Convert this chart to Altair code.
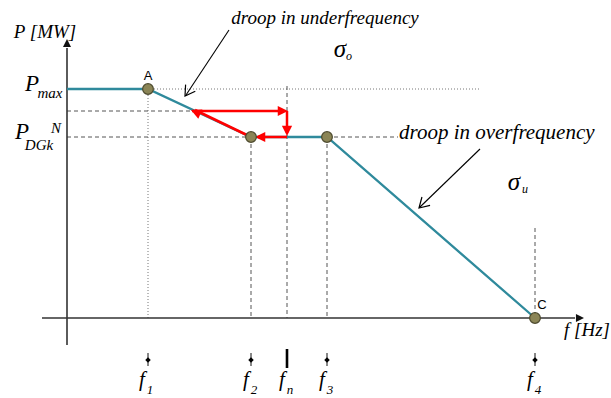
import altair as alt
import pandas as pd

# Characteristic P(f) of a distributed generator, in diagram units
# (origin of the f / P axes at 0, 0).
F1, F2, FN, F3, F4 = 81, 184, 220, 260, 468
P_MAX, P_MID, P_DGK = 229, 207, 181
F_MID = 125

# Teal P(f) characteristic
curve_f = [0, F1, F2, F3, F4]
curve_p = [P_MAX, P_MAX, P_DGK, P_DGK, 0]

# Operating points (circles)
pt_f = [F1, F2, F3, F4]
pt_p = [P_MAX, P_DGK, P_DGK, 0]

TEAL = "#2f8a9c"
RED = "#ff0000"
SERIF = "Liberation Serif"
SANS = "Liberation Sans"

W, H = 611, 398
xs = alt.Scale(domain=[-67, 544], range=[0, W], nice=False, zero=False)
ys = alt.Scale(domain=[-80, 318], range=[H, 0], nice=False, zero=False)
X = lambda f="x": alt.X(f, type="quantitative", scale=xs, axis=None)
Y = lambda f="y": alt.Y(f, type="quantitative", scale=ys, axis=None)


def segs(rows):
    return pd.DataFrame(rows, columns=["x", "y", "x2", "y2"])


def rules(rows, color, width, dash=None):
    kw = dict(color=color, strokeWidth=width)
    if dash:
        kw["strokeDash"] = dash
    return alt.Chart(segs(rows)).mark_rule(**kw).encode(
        x=X(), y=Y(), x2="x2:Q", y2="y2:Q")


def heads(rows, color, size, path, filled=True, width=1.2):
    df = pd.DataFrame(rows, columns=["x", "y", "angle"])
    kw = dict(shape=path, size=size, color=color, opacity=1)
    if filled:
        kw.update(filled=True, strokeWidth=0)
    else:
        kw.update(filled=False, strokeWidth=width)
    return alt.Chart(df).mark_point(**kw).encode(
        x=X(), y=Y(), angle=alt.Angle("angle:Q", scale=None))


def texts(rows, size, font=SERIF, style="italic", align="center", color="black"):
    df = pd.DataFrame(rows, columns=["x", "y", "t"])
    return alt.Chart(df).mark_text(
        font=font, fontSize=size, fontStyle=style, align=align,
        baseline="middle", color=color).encode(x=X(), y=Y(), text="t:N")


FILLED_HEAD = "M0,0L-1,-0.5L-1,0.5Z"
OPEN_HEAD = "M-1,-0.6L0,0L-1,0.6"

# Guide lines
dotted = rules([(F1, P_MAX, 413, P_MAX), (F1, P_MAX, F1, 0)],
               "#777777", 1, [1, 2])
dashed = rules([(0, P_MID, F_MID, P_MID), (0, P_DGK, F2, P_DGK),
                (F3, P_DGK, 331, P_DGK), (F2, P_DGK, F2, 0),
                (FN, 232, FN, 0), (F3, P_DGK, F3, 0), (F4, 90, F4, 0)],
               "#555555", 1, [4, 3])

# Axes with arrowheads
axes = rules([(0, 270, 0, -27), (-25, 0, 508, 0)], "#333333", 1.6)
axis_heads = heads([(0, 279, -90), (517, 0, 0)], "#111111", 260, FILLED_HEAD)

# Characteristic
curve = alt.Chart(pd.DataFrame({"x": curve_f, "y": curve_p})).mark_line(
    color=TEAL, strokeWidth=2.3).encode(x=X(), y=Y(), order="x:Q")

# Red path of the operating point
red = rules([(F2, P_DGK, F_MID + 3, P_MID + 1), (F_MID, P_MID, FN - 4, P_MID),
             (FN, P_MID, FN, P_DGK + 4), (FN, P_DGK, F2 + 7, P_DGK)], RED, 2.5)
red_heads = heads([(F_MID - 1, P_MID + 1, 204), (FN + 1, P_MID, 0),
                   (FN, P_DGK + 1, 90), (F2 + 4, P_DGK, 180)],
                  RED, 420, FILLED_HEAD)

points = alt.Chart(pd.DataFrame({"x": pt_f, "y": pt_p})).mark_point(
    shape="circle", filled=True, size=115, color="#8b8556",
    stroke="#4d4a2e", strokeWidth=1.2, opacity=1).encode(x=X(), y=Y())

# Annotation arrows
notes = rules([(162, 288, 119, 223), (413, 169, 353, 111)], "black", 1.1)
note_heads = heads([(118, 222, 124), (352, 110, 136)], "black", 380,
                   OPEN_HEAD, filled=False)

# Ticks on the frequency axis
tick_f = [F1, F2, F3, F4]
ticks = rules([(f, -35, f, -48) for f in tick_f], "#111111", 1)
tick_dots = alt.Chart(pd.DataFrame({"x": tick_f, "y": [-42] * 4})).mark_point(
    shape="diamond", filled=True, size=30, color="black", opacity=1).encode(
    x=X(), y=Y())
fn_tick = rules([(FN, -31, FN, -50)], "black", 2.6)

labels_f = texts([(F1 - 6, -62, "f"), (F2 - 5, -62, "f"), (FN - 5, -62, "f"),
                  (F3 - 5, -62, "f"), (F4 - 5, -62, "f")], 21)
labels_main = texts([(-22, 286, "P [MW]"),
                     (258, 300, "droop in underfrequency"),
                     (520, -12, "f [Hz]")], 19)
label_over = texts([(332, 185, "droop in overfrequency")], 21, align="left")
labels_sub = texts([(F1 + 2, -72, "1"), (F2 + 3, -72, "2"), (FN + 3, -72, "n"),
                    (F3 + 3, -72, "3"), (F4 + 3, -72, "4")], 13)
labels_p = texts([(-35, 234, "P"), (-45, 186, "P")], 23)
labels_psub = texts([(-17, 225, "max"), (-28, 173, "DGk")], 15)
labels_psup = texts([(-11, 190, "N")], 15)
sigmas = texts([(273, 269, "σ"), (447, 136, "σ")], 25)
sigma_sub = texts([(282, 262, "o"), (458, 129, "u")], 12)
letters = texts([(F1, 242, "A"), (F4 + 7, 13, "C")], 13, font=SANS,
                style="normal")

chart = alt.layer(
    dotted, dashed, axes, axis_heads, curve, red, red_heads, points,
    notes, note_heads, ticks, tick_dots, fn_tick, labels_f, labels_main,
    label_over, labels_sub, labels_p, labels_psub, labels_psup, sigmas,
    sigma_sub, letters,
).properties(width=W, height=H, padding=0, autosize="none",
             background="white").configure_view(stroke=None)

chart.save("out.html", embed_options={"renderer": "svg", "actions": False})
